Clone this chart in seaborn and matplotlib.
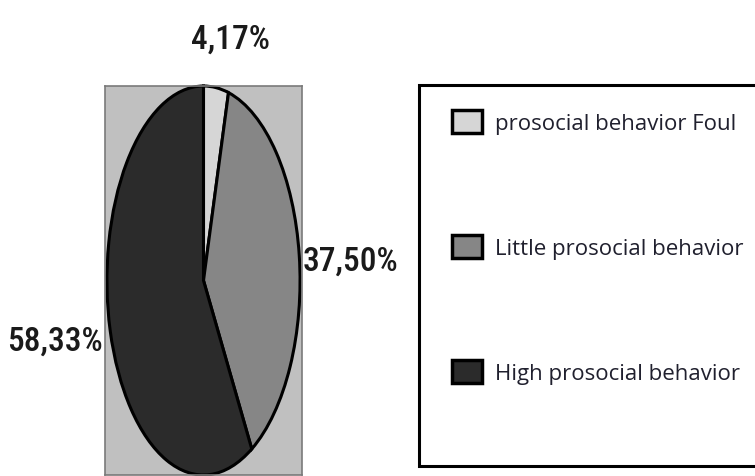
import matplotlib
matplotlib.use("Agg")
import matplotlib.pyplot as plt
from matplotlib.patches import Rectangle
import seaborn as sns

# Share of pupils by level of prosocial behaviour
categories = ["prosocial behavior Foul", "Little prosocial behavior", "High prosocial behavior"]
shares = [4.17, 37.50, 58.33]
slice_colors = ["#d6d6d6", "#868686", "#2b2b2b"]

sns.set_theme(style="white")
plt.rcParams["font.family"] = ["Open Sans", "DejaVu Sans"]

W, H = 755, 477
fig = plt.figure(figsize=(W / 100, H / 100), dpi=100)
fig.patch.set_facecolor("white")


def fx(px):
    return px / W


def fy(py):
    return 1 - py / H


# Plot area: grey panel, pie stretched into a tall ellipse
ax = fig.add_axes([fx(105), fy(476), fx(302) - fx(105), fy(87) - fy(476)])
ax.set_facecolor("#c0c0c0")
palette = sns.color_palette(slice_colors)
wedges, _ = ax.pie(
    shares,
    colors=palette,
    startangle=90,
    counterclock=False,
    radius=1.0,
    wedgeprops=dict(edgecolor="black", linewidth=2.2),
)
ax.set_aspect("auto")
ax.set_xlim(-1.02, 1.02)
ax.set_ylim(-1.0, 1.0)
ax.set_xticks([])
ax.set_yticks([])
ax.set_frame_on(True)
for sp in ax.spines.values():
    sp.set_visible(True)
    sp.set_color("#7a7a7a")
    sp.set_linewidth(1.2)

# Percentage labels in a narrow face
label_pos = [(230, 40), (350, 262), (55, 342)]
for val, (px, py) in zip(shares, label_pos):
    fig.text(
        fx(px), fy(py), f"{val:.2f}%".replace(".", ","),
        ha="center", va="center", fontsize=24, color="#1a1a1a",
        family=["Roboto Condensed", "Liberation Sans Narrow", "Roboto", "DejaVu Sans"],
        fontweight="medium",
    )

# Legend with its own frame
frame = Rectangle(
    (fx(419), fy(467)), fx(780) - fx(419), fy(86) - fy(467),
    transform=fig.transFigure, facecolor="white", edgecolor="black",
    linewidth=2.2, zorder=0,
)
fig.patches.append(frame)

fs = 16
leg = fig.legend(
    wedges, categories,
    loc="upper left",
    bbox_to_anchor=(fx(452), fy(111)),
    frameon=False,
    fontsize=fs,
    handlelength=1.35,
    handleheight=1.2,
    handletextpad=0.6,
    labelspacing=4.55,
    borderpad=0,
    borderaxespad=0,
)
for t in leg.get_texts():
    t.set_color("#20202e")
for h in leg.legend_handles:
    h.set_edgecolor("black")
    h.set_linewidth(2.5)

fig.savefig("out.png", dpi=100)
